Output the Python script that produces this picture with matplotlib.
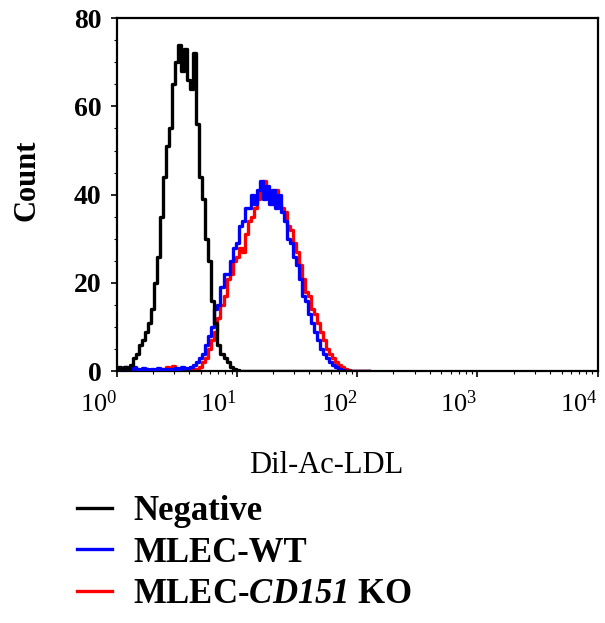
import matplotlib
matplotlib.use('Agg')
import matplotlib.pyplot as plt
import numpy as np
from matplotlib.ticker import FixedLocator, FuncFormatter, LogLocator, MultipleLocator

plt.rcParams['font.family'] = 'Liberation Serif'
plt.rcParams['mathtext.fontset'] = 'custom'
# rm is only used for the italic gene name in the legend
plt.rcParams['mathtext.rm'] = 'Liberation Serif:italic:bold'
plt.rcParams['mathtext.it'] = 'Liberation Serif:italic:bold'

# channel grid: log10 of fluorescence, one bin every 0.025 decade (0 .. 2.1)
log_bins = np.arange(0, 2.1001, 0.025)

# histogram counts
negative = [0.5, 1, 0.5, 1, 0.5, 1.5, 3, 4, 6, 7,
            9, 11, 14, 20, 26, 35, 44, 51, 55, 65,
            70, 74, 68, 73, 66, 64, 72, 56, 44, 39,
            30, 25, 16, 11, 6, 4, 3, 2, 1, 0.5,
            0.3, 0, 0, 0, 0, 0, 0, 0, 0, 0,
            0, 0, 0, 0, 0, 0, 0, 0, 0, 0,
            0, 0, 0, 0, 0, 0, 0, 0, 0, 0,
            0, 0, 0, 0, 0, 0, 0, 0, 0, 0,
            0, 0, 0, 0, 0]
mlec_wt = [0.3, 0.8, 0.5, 1, 0.4, 0.6, 1, 0.5, 0.3, 0.8,
           0.5, 0.3, 0.6, 0.4, 0.8, 0.5, 0.3, 0.6, 0.4, 0.5,
           0.8, 0.6, 0.9, 0.7, 0.8, 1, 1.5, 2, 3, 4,
           6, 8, 10, 14, 15, 19, 22, 22, 25, 28,
           29, 33, 34, 37, 37, 40, 38, 41, 43, 39,
           42, 38, 41, 37, 40, 36, 34, 30, 29, 26,
           24, 21, 17, 16, 13, 11, 9, 7, 5, 4,
           3, 2, 1.5, 1, 0.5, 0.3, 0, 0, 0, 0,
           0, 0, 0, 0, 0]
mlec_ko = [0.4, 0.2, 0.6, 0.3, 0.5, 0.2, 0.4, 0.6, 0.3, 0.2,
           0.5, 0.3, 0.2, 0.4, 0.3, 0.2, 0.5, 1, 0.4, 1.2,
           0.6, 0.3, 0.8, 0.5, 0.4, 0.6, 0.5, 0.5, 1, 2,
           3, 5, 7, 9, 12, 15, 17, 21, 22, 25,
           26, 28, 27, 31, 34, 35, 37, 39, 41, 43,
           41, 40, 38, 41, 38, 37, 36, 33, 32, 29,
           27, 24, 21, 18, 17, 14, 13, 11, 9, 7,
           5, 4, 3, 2, 1.5, 1, 0.5, 0.3, 0, 0,
           0, 0, 0, 0, 0]

labels = ['Negative', 'MLEC-WT', 'MLEC-$\\mathrm{CD151}$ KO']
colors = ['black', '#0000ff', '#ff0000']

fig = plt.figure(figsize=(6.05, 6.23), dpi=100)
ax = fig.add_axes([0.193, 0.404, 0.795, 0.567])

x = 10 ** log_bins
ax.step(x, mlec_ko, where='mid', color=colors[2], lw=2.4, label=labels[2], zorder=2)
ax.step(x, mlec_wt, where='mid', color=colors[1], lw=2.4, label=labels[1], zorder=3)
ax.step(x, negative, where='mid', color=colors[0], lw=2.4, label=labels[0], zorder=4)

ax.set_xscale('log')
ax.set_xlim(1, 1e4)
ax.set_ylim(0, 80)
ax.xaxis.set_major_locator(FixedLocator([1, 10, 100, 1000, 10000]))
ax.xaxis.set_minor_locator(LogLocator(base=10, subs=np.arange(2, 10), numticks=20))
ax.xaxis.set_major_formatter(FuncFormatter(
    lambda v, p: r'$\mathregular{10^{%d}}$' % int(round(np.log10(v)))))
ax.yaxis.set_major_locator(MultipleLocator(20))
ax.yaxis.set_minor_locator(MultipleLocator(5))

for s in ax.spines.values():
    s.set_linewidth(1.6)
ax.tick_params(axis='both', which='major', length=4, width=1.2)
ax.tick_params(axis='both', which='minor', length=2.5, width=0.8)
ax.tick_params(axis='x', labelsize=19, pad=10)
ax.tick_params(axis='y', labelsize=20, pad=7)
for t in ax.get_yticklabels():
    t.set_fontweight('bold')
for t in ax.get_xticklabels():
    t.set_fontweight('normal')
    t.set_horizontalalignment('right')

ax.set_xlabel('Dil-Ac-LDL', fontsize=22)
ax.xaxis.set_label_coords(0.435, -0.225)
ax.set_ylabel('Count', fontsize=22, fontweight='bold')
ax.yaxis.set_label_coords(-0.157, 0.54)

h, l = ax.get_legend_handles_labels()
order = [2, 1, 0]
fig.legend([h[i] for i in order], [l[i] for i in order],
           loc='upper left', bbox_to_anchor=(0.128, 0.205), frameon=False,
           prop={'size': 25, 'weight': 'bold'}, handlelength=1.0,
           handletextpad=0.6, labelspacing=0.24, borderpad=0, borderaxespad=0)

fig.savefig('out.png', dpi=100)
